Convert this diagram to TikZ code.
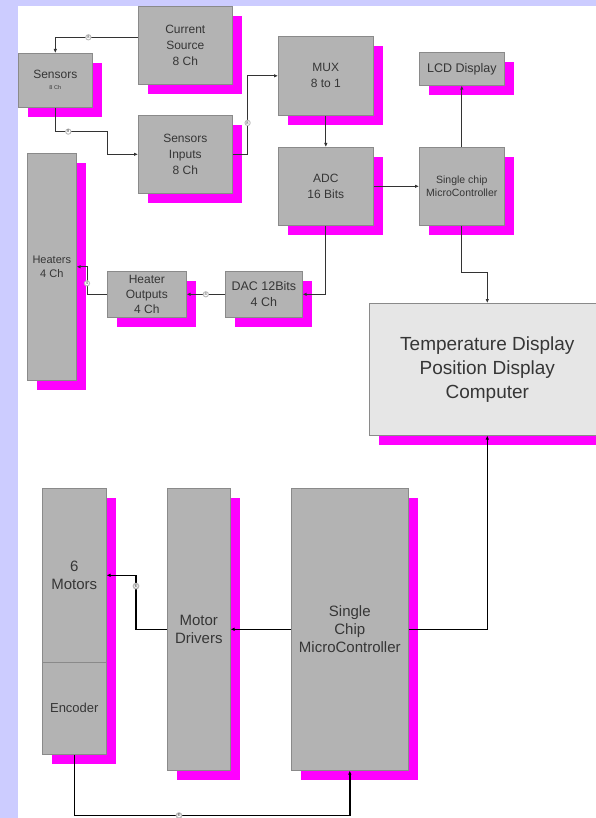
\documentclass[tikz,border=0pt]{standalone}
\usepackage{fontspec}
\setmainfont{Liberation Sans}
\usepackage{tikz}
\usetikzlibrary{arrows.meta,positioning,shadows,calc}
\definecolor{blkFill}{HTML}{B3B3B3}
\definecolor{blkEdge}{HTML}{8A8A8A}
\definecolor{blkText}{HTML}{363636}
\definecolor{blkShade}{HTML}{FF00FF}
\definecolor{blkPale}{HTML}{E6E6E6}
\definecolor{blkPage}{HTML}{CCCCFF}
\definecolor{blkWire}{HTML}{333333}
\tikzset{
  blk/.style={draw=blkEdge,line width=0.6pt,fill=blkFill,text=blkText,align=center,inner sep=0pt,
              anchor=north west,font=\fontsize{12}{16}\selectfont,
              drop shadow={shadow xshift=10pt,shadow yshift=-10pt,fill=blkShade,opacity=1}},
  blkpale/.style={blk,fill=blkPale,font=\fontsize{19}{24}\selectfont},
  blkbig/.style={blk,font=\fontsize{15}{18}\selectfont},
  blkflow/.style={-{Latex[length=4pt,width=3.5pt]},draw=blkWire,line width=0.9pt},
  blkheavy/.style={blkflow,draw=black,line width=1.4pt},
  blklbl/.style={circle,draw=blkEdge!60,fill=white,inner sep=0.6pt,text=blkText,font=\fontsize{4}{4}\selectfont},
}
\begin{document}
\begin{tikzpicture}[x=1pt,y=-1pt]
  \useasboundingbox (0,0) rectangle (596,818);
  \clip (0,0) rectangle (596,818);
  \fill[blkPage] (0,0) rectangle (596,818);
  \fill[white] (18,6) rectangle (596,818);

  % temperature side
  \node[blk,minimum width=94pt,minimum height=78pt] (cur) at (138,6) {Current\\Source\\8 Ch};
  \node[blk,minimum width=74pt,minimum height=54pt] (sens) at (18,53) {Sensors\\[-5pt]{\fontsize{5.5}{6}\selectfont 8 Ch}};
  \node[blk,minimum width=94pt,minimum height=78pt] (sin) at (138,115) {Sensors\\Inputs\\8 Ch};
  \node[blk,minimum width=95pt,minimum height=79pt] (mux) at (278,36) {MUX\\8 to 1};
  \node[blk,minimum width=95pt,minimum height=78pt] (adc) at (278,147) {ADC\\16 Bits};
  \node[blk,minimum width=85pt,minimum height=33pt,font=\fontsize{12.5}{15}\selectfont] (lcd) at (419,52) {LCD Display};
  \node[blk,minimum width=85pt,minimum height=78pt,font=\fontsize{10.5}{13}\selectfont] (mcu) at (419,147) {Single chip\\MicroController};
  \node[blk,minimum width=49pt,minimum height=227pt,font=\fontsize{11}{14}\selectfont] (heat) at (27,153) {Heaters\\4 Ch};
  \node[blk,minimum width=79pt,minimum height=46pt,font=\fontsize{12}{15}\selectfont] (hout) at (107,271) {Heater\\Outputs\\4 Ch};
  \node[blk,minimum width=77pt,minimum height=46pt,font=\fontsize{12.5}{16}\selectfont] (dac) at (225,271) {DAC 12Bits\\4 Ch};
  \node[blkpale,minimum width=236pt,minimum height=132pt] (comp) at (369,303) {Temperature Display\\Position Display\\Computer};

  % motor side
  \node[blkbig,minimum width=64pt,minimum height=174pt] (mot) at (42,488) {6\\Motors};
  \node[blk,minimum width=64pt,minimum height=92pt,font=\fontsize{13}{16}\selectfont] (enc) at (42,662) {Encoder};
  \node[blkbig,minimum width=63pt,minimum height=282pt] (drv) at (167,488) {Motor\\Drivers};
  \node[blkbig,minimum width=117pt,minimum height=282pt] (lmcu) at (291,488) {Single\\Chip\\MicroController};

  \draw[blkflow] ([yshift=8pt]cur.west) -| node[blklbl,pos=0.3]{8} (sens.north);
  \draw[blkflow] (sens.south) -- ++(0,24) -- node[blklbl,pos=0.25]{8} ++(52,0) |- (sin.west);
  \draw[blkflow] (sin.east) -- ++(15,0) |- node[blklbl,pos=0.2]{8} (mux.west);
  \draw[blkflow] (mux) -- (adc);
  \draw[blkflow] (adc) -- (mcu);
  \draw[blkflow] (mcu) -- (lcd);
  \draw[blkflow] (mcu.south) -- ++(0,47) -| (comp.north);
  \draw[blkflow] (adc.south) |- (dac.east);
  \draw[blkflow] (dac) -- node[blklbl]{4} (hout);
  \draw[blkflow] (hout.west) -- ++(-20,0) |- node[blklbl,pos=0.2]{4} (heat.east);
  \draw[blkheavy] (lmcu.east) -| (comp.south);
  \draw[blkheavy] (lmcu) -- (drv);
  \draw[blkheavy] (drv.west) -- ++(-31,0) |- node[blklbl,pos=0.4]{6} (mot.east);
  \draw[blkheavy] (enc.south) -- ++(0,61) -| node[blklbl,pos=0.19]{6} (lmcu.south);
\end{tikzpicture}
\end{document}
